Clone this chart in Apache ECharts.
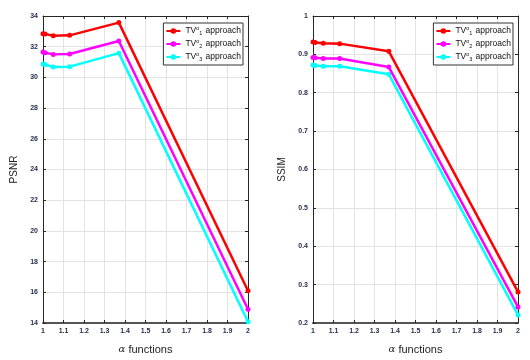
<!DOCTYPE html>
<html>
<head>
<meta charset="utf-8">
<script src="https://cdn.jsdelivr.net/npm/echarts@6/dist/echarts.min.js"></script>
<style>
  html, body { margin: 0; padding: 0; background: #fff; }
  #wrap { width: 530px; height: 360px; position: relative; }
  #psnr { position: absolute; left: 0; top: 0; width: 265px; height: 360px; }
  #ssim { position: absolute; left: 265px; top: 0; width: 265px; height: 360px; }
</style>
</head>
<body>
<div id="wrap">
  <div id="psnr"></div>
  <div id="ssim"></div>
</div>
<script>
// alpha values (x axis)
const alphaList = [1, 1.01, 1.05, 1.13, 1.37, 2]
const seriesNames = ['TV1', 'TV2', 'TV3']
const seriesColors = ['#ff0000', '#ff00ff', '#00ffff']

// PSNR values
const psnr1 = [32.85, 32.83, 32.72, 32.74, 33.57, 16.1]
const psnr2 = [31.65, 31.6, 31.5, 31.52, 32.37, 14.9]
const psnr3 = [30.88, 30.84, 30.68, 30.7, 31.58, 14.08]

// SSIM values
const ssim1 = [0.932, 0.931, 0.929, 0.928, 0.908, 0.281]
const ssim2 = [0.892, 0.891, 0.889, 0.889, 0.867, 0.242]
const ssim3 = [0.872, 0.871, 0.869, 0.869, 0.848, 0.221]

const labelFont = 'Liberation Sans, Arial, sans-serif'

function pairs(vals) {
  return alphaList.map((a, i) => [a, vals[i]])
}

function makeOption(yName, yMin, yMax, yStep, lists, gridLeft, gridRight, nameGap, legendRight) {
  const axisLineStyle = { color: '#262626', width: 1 }
  return {
    animation: false,
    grid: { left: gridLeft, right: gridRight, top: 16, bottom: 36, containLabel: false },
    legend: {
      orient: 'vertical',
      right: legendRight,
      top: 23,
      itemWidth: 14,
      itemHeight: 7,
      itemGap: 3,
      padding: [3, 2, 3, 2],
      borderColor: '#333',
      borderWidth: 1,
      backgroundColor: '#fff',
      data: seriesNames,
      formatter: (name) => {
        const n = name.slice(2)
        return 'TV{sup|α}{sub|' + n + '} approach'
      },
      textStyle: {
        fontFamily: labelFont,
        fontSize: 8.5,
        color: '#111',
        rich: {
          sup: { fontSize: 5, verticalAlign: 'top', padding: [0, 0, 5, 0], fontFamily: labelFont },
          sub: { fontSize: 5.5, verticalAlign: 'bottom', padding: [3, 1, 0, 0], fontFamily: labelFont }
        }
      }
    },
    xAxis: [
      {
        type: 'value',
        min: 1,
        max: 2,
        interval: 0.1,
        name: '{a|α} functions',
        nameLocation: 'middle',
        nameGap: 21,
        nameTextStyle: {
          fontFamily: labelFont,
          fontSize: 11,
          color: '#222',
          rich: { a: { fontFamily: 'DejaVu Serif, serif', fontStyle: 'italic', fontSize: 10, color: '#222' } }
        },
        axisLine: { show: true, lineStyle: { color: '#555', width: 2 } },
        axisTick: { show: true, inside: true, length: 3, lineStyle: axisLineStyle },
        axisLabel: { fontFamily: labelFont, fontSize: 7, fontWeight: 'bold', color: '#1f2a4a', margin: 5 },
        splitLine: { show: true, lineStyle: { color: '#e3e3e3', width: 1 } }
      },
      {
        type: 'value',
        position: 'top',
        min: 1,
        max: 2,
        interval: 0.1,
        axisLine: { show: true, lineStyle: axisLineStyle },
        axisTick: { show: true, inside: true, length: 3, lineStyle: axisLineStyle },
        axisLabel: { show: false },
        splitLine: { show: false }
      }
    ],
    yAxis: [
      {
        type: 'value',
        min: yMin,
        max: yMax,
        interval: yStep,
        name: yName,
        nameLocation: 'middle',
        nameGap: nameGap,
        nameTextStyle: { fontFamily: labelFont, fontSize: 10, color: '#222' },
        axisLine: { show: true, lineStyle: axisLineStyle },
        axisTick: { show: true, inside: true, length: 3, lineStyle: axisLineStyle },
        axisLabel: { fontFamily: labelFont, fontSize: 7, fontWeight: 'bold', color: '#1f2a4a', margin: 5 },
        splitLine: { show: true, lineStyle: { color: '#e3e3e3', width: 1 } }
      },
      {
        type: 'value',
        position: 'right',
        min: yMin,
        max: yMax,
        interval: yStep,
        axisLine: { show: true, lineStyle: axisLineStyle },
        axisTick: { show: true, inside: true, length: 3, lineStyle: axisLineStyle },
        axisLabel: { show: false },
        splitLine: { show: false }
      }
    ],
    series: lists.map((vals, i) => ({
      name: seriesNames[i],
      type: 'line',
      data: pairs(vals),
      symbol: 'circle',
      symbolSize: 5,
      lineStyle: { width: 2.5, color: seriesColors[i] },
      itemStyle: { color: seriesColors[i] },
      z: 10 - i
    }))
  }
}

const psnrChart = echarts.init(document.getElementById('psnr'))
psnrChart.setOption(makeOption('PSNR', 14, 34, 2, [psnr1, psnr2, psnr3], 43, 17, 16, 22))

const ssimChart = echarts.init(document.getElementById('ssim'))
ssimChart.setOption(makeOption('SSIM', 0.2, 1, 0.1, [ssim1, ssim2, ssim3], 48, 12, 18, 17))
</script>
</body>
</html>
